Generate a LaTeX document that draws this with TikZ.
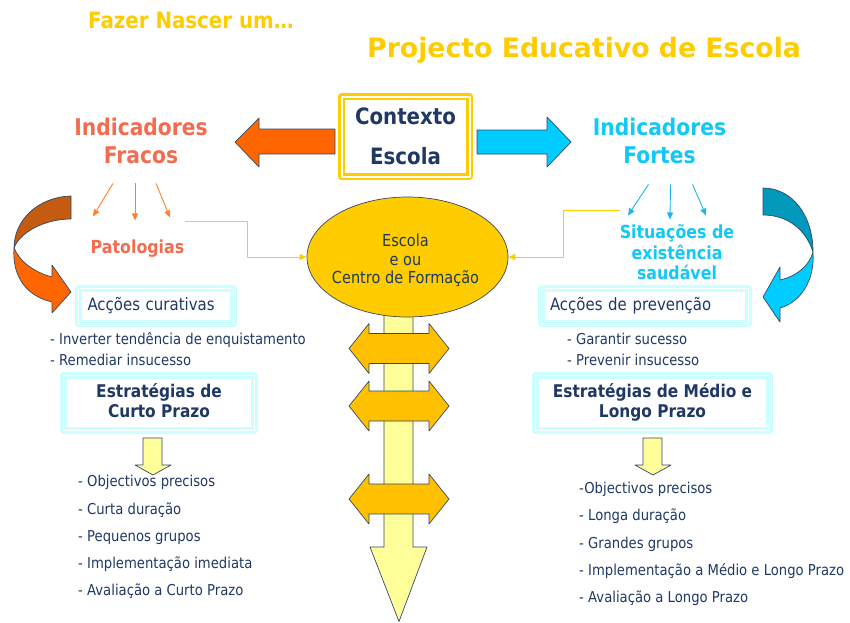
\documentclass[tikz,border=0pt]{standalone}
\usepackage{fontspec}
\setmainfont[FakeStretch=0.88]{DejaVu Sans}
\newfontfamily\ttlfont{DejaVu Sans}
\usetikzlibrary{arrows.meta,shapes.geometric}

\definecolor{gold}{RGB}{255,204,0}
\definecolor{amber}{RGB}{255,192,0}
\definecolor{pale}{RGB}{255,255,153}
\definecolor{salmon}{RGB}{242,108,79}
\definecolor{skytxt}{RGB}{18,200,245}
\definecolor{navy}{RGB}{31,56,100}
\definecolor{edge}{RGB}{52,72,104}
\definecolor{lcyan}{RGB}{204,255,255}
\definecolor{orng}{RGB}{255,102,0}
\definecolor{rust}{RGB}{197,90,17}
\definecolor{cyanfill}{RGB}{0,204,255}
\definecolor{deepteal}{RGB}{0,153,187}
\definecolor{fcol}{RGB}{255,127,42}
\definecolor{scol}{RGB}{30,182,232}

\begin{document}
\begin{tikzpicture}[x=1pt,y=-1pt,>={Triangle[length=7pt,width=6pt]},line join=round,
 t/.style={inner sep=0pt,text=navy},
 ttl/.style={t,text=gold,anchor=base west,font=\bfseries\fontsize{22.5}{27}\selectfont},
 hd/.style={t,align=center,font=\bfseries\fontsize{23}{28}\selectfont},
 sub/.style={t,align=center,font=\bfseries\fontsize{18}{20.5}\selectfont},
 itm/.style={t,anchor=base west,font=\fontsize{15}{18}\selectfont},
 fr/.style={draw=lcyan,double=white,line width=2.5pt,double distance=1.5pt,inner sep=0pt,text=navy},
 act/.style={fr,minimum height=35,align=left,font=\fontsize{17}{20}\selectfont},
 strat/.style={fr,minimum height=55,align=center,font=\bfseries\fontsize{17.5}{20}\selectfont},
 blk/.style={draw=edge,line width=0.7pt},
 lnk/.style={draw=gold,line width=0.9pt,->},
 fa/.style={draw=fcol,line width=0.9pt,->},
 sa/.style={draw=scol,line width=0.9pt,->}]
\useasboundingbox (0,0) rectangle (850,622);

% curved arrows at the sides
\draw[blk,fill=rust] (71,196) .. controls (38,197) and (14,220) .. (14,248) .. controls (20,232) and (45,219) .. (71,219) -- cycle;
\draw[blk,fill=orng] (14,248) .. controls (12,276) and (26,296) .. (52,302) -- (52,313) -- (71,292) -- (52,265) -- (52,277) .. controls (34,272) and (20,262) .. (14,248) -- cycle;
\draw[blk,fill=deepteal] (763,188) .. controls (792,188) and (813,215) .. (813,252) .. controls (806,230) and (788,215) .. (763,215) -- cycle;
\draw[blk,fill=cyanfill] (813,252) .. controls (815,280) and (801,302) .. (780,308) -- (780,322) -- (763,297) -- (780,267) -- (780,280) .. controls (797,276) and (809,266) .. (813,252) -- cycle;

% block arrows left and right of the context box
\draw[blk,fill=orng] (335,129) -- (259,129) -- (259,118) -- (235,142) -- (259,167) -- (259,154) -- (335,154) -- cycle;
\draw[blk,fill=cyanfill] (477,130) -- (547,130) -- (547,117) -- (571,142) -- (547,167) -- (547,154) -- (477,154) -- cycle;

% central shaft and double arrows
\draw[blk,fill=pale] (384,300) -- (384,547) -- (370,547) -- (399,621.5) -- (427,547) -- (413,547) -- (413,300) -- cycle;
\foreach \y in {348.5,406,499}
  \draw[blk,fill=amber] (349,\y) -- (369,\y-25) -- (369,\y-15) -- (429,\y-15) -- (429,\y-25) -- (449,\y) -- (429,\y+25) -- (429,\y+15) -- (369,\y+15) -- (369,\y+25) -- cycle;
\foreach \x in {153,653}
  \draw[blk,fill=pale] (\x-10,438) -- (\x+9,438) -- (\x+9,465) -- (\x+18,465) -- (\x,475) -- (\x-18,465) -- (\x-10,465) -- cycle;

% titles
\node[ttl] (fazer) at (88,28.5) {Fazer Nascer um…};
\node[ttl,font=\ttlfont\bfseries\fontsize{26.7}{32}\selectfont] (pee) at (367,57) {Projecto Educativo de Escola};

% top row
\node[hd,text=salmon] (fracos) at (141,141.3) {Indicadores\\Fracos};
\node[hd,text=skytxt] (fortes) at (659.5,141.3) {Indicadores\\Fortes};
\node[fr,draw=gold,double distance=2pt,minimum width=128,minimum height=80,align=center,
  font=\bfseries\fontsize{22.5}{40}\selectfont] (ctx) at (405.5,136.5) {Contexto\\Escola};

\node[sub,text=salmon,anchor=base] (patol) at (137.5,253.3) {Patologias};
\node[sub,text=skytxt] (situ) at (677,252.3) {Situações de\\existência\\saudável};

\node[draw=edge,fill=gold,ellipse,minimum width=201,minimum height=120,inner sep=0pt,line width=0.7pt] (centro) at (407.5,257) {};
\node[t,align=center,font=\fontsize{16.5}{18.5}\selectfont] (centrotxt) at (405.5,260.6) {Escola\\e ou\\Centro de Formação};

\foreach \a/\c/\d in {-28/-44.5/-23, -6/-2.5/-19, 15/32.5/-22}
  \draw[fa] ([shift={(\a,19)}]fracos.south) -- ([shift={(\c,\d)}]patol.north);
\foreach \a/\c/\d in {-11/-49/-9, 11/-7/-5, 33/29/-9}
  \draw[sa] ([shift={(\a,20)}]fortes.south) -- ([shift={(\c,\d)}]situ.north);

\coordinate (lfrom) at (185,221);
\coordinate (rfrom) at (620,210);
\draw[lnk] (lfrom) -- ++(62,0) |- (centro.west);
\draw[lnk] (rfrom) -- ++(-57,0) |- (centro.east);

% left column
\node[act,minimum width=155,text width=137] (cur) at (156,306) {Acções curativas};
\node[itm] (inv) at (50,344) {- Inverter tendência de enquistamento};
\node[itm] (rem) at (50,365) {- Remediar insucesso};
\node[strat,minimum width=191] (curto) at (159,403) {Estratégias de\\Curto Prazo\strut};
\node[itm] (l1) at (78,486.7) {- Objectivos precisos};
\node[itm] (l2) at (78,514) {- Curta duração};
\node[itm] (l3) at (78,541) {- Pequenos grupos};
\node[itm] (l4) at (78,568) {- Implementação imediata};
\node[itm] (l5) at (78,595.7) {- Avaliação a Curto Prazo};

% right column
\node[act,minimum width=207,text width=190] (prev) at (645,306) {Acções de prevenção};
\node[itm] (gar) at (567,344) {- Garantir sucesso};
\node[itm] (pre) at (567,365) {- Prevenir insucesso};
\node[strat,minimum width=234] (longo) at (652.5,403) {Estratégias de Médio e\\Longo Prazo\strut};
\node[itm] (r1) at (579,493) {-Objectivos precisos};
\node[itm] (r2) at (579,520.7) {- Longa duração};
\node[itm] (r3) at (579,548) {- Grandes grupos};
\node[itm] (r4) at (579,575) {- Implementação a Médio e Longo Prazo};
\node[itm] (r5) at (579,602) {- Avaliação a Longo Prazo};
\end{tikzpicture}
\end{document}
